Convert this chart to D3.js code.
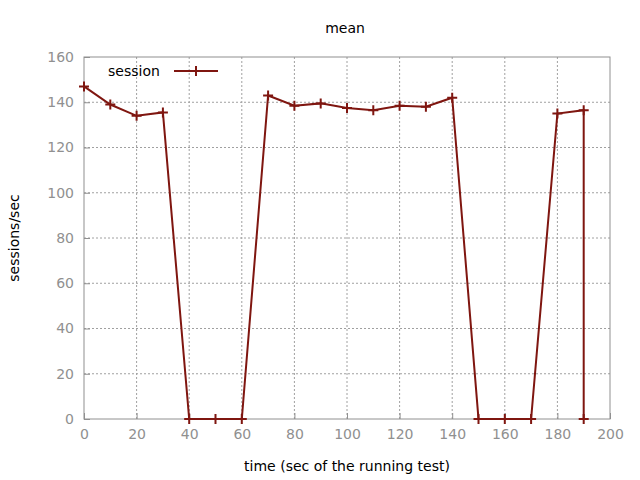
<!DOCTYPE html>
<html><head><meta charset="utf-8">
<script src="https://cdn.jsdelivr.net/npm/d3@7"></script>
<style>body{margin:0;background:#fff}</style>
</head><body>
<div id="chart"></div>
<script>
var times = [0,10,20,30,40,50,60,70,80,90,100,110,120,130,140,150,160,170,180,190,190];
var sessions = [147,139,134,135.5,0,0,0,143,138.5,139.5,137.5,136.5,138.5,138,142,0,0,0,135,136.5,0];
var xTicks = [0,20,40,60,80,100,120,140,160,180,200];
var yTicks = [0,20,40,60,80,100,120,140,160];

var width = 640, height = 480;
var margin = {top: 57, right: 30, bottom: 61, left: 84};
var color = "#7f1610";
var svg = d3.select("#chart").append("svg")
    .attr("width", width).attr("height", height)
    .style("font-family", "'DejaVu Sans', sans-serif");

var x = d3.scaleLinear().domain([0, 200]).range([margin.left, width - margin.right]);
var y = d3.scaleLinear().domain([0, 160]).range([height - margin.bottom, margin.top]);

// grid
svg.append("g").selectAll("line").data(xTicks.slice(1, -1)).enter().append("line")
    .attr("x1", d => x(d)).attr("x2", d => x(d))
    .attr("y1", y(0)).attr("y2", y(160))
    .attr("stroke", "#a0a0a0").attr("stroke-dasharray", "2,2");
svg.append("g").selectAll("line").data(yTicks.slice(1, -1)).enter().append("line")
    .attr("x1", x(0)).attr("x2", x(200))
    .attr("y1", d => y(d)).attr("y2", d => y(d))
    .attr("stroke", "#a0a0a0").attr("stroke-dasharray", "2,2");

// frame
svg.append("rect").attr("x", x(0)).attr("y", y(160))
    .attr("width", x(200) - x(0)).attr("height", y(0) - y(160))
    .attr("fill", "none").attr("stroke", "#909090");

var xAxis = svg.append("g").attr("transform", `translate(0,${y(0)})`)
    .call(d3.axisBottom(x).tickValues(xTicks).tickSize(-6).tickPadding(10));
var yAxis = svg.append("g").attr("transform", `translate(${x(0)},0)`)
    .call(d3.axisLeft(y).tickValues(yTicks).tickSize(-6).tickPadding(10));
[xAxis, yAxis].forEach(g => {
    g.select(".domain").remove();
    g.selectAll("line").attr("stroke", "#909090");
    g.selectAll("text").attr("fill", "#909090").style("font-size", "14px").style("font-family", "'DejaVu Sans', sans-serif");
});

var pts = times.map((t, i) => [t, sessions[i]]);
svg.append("path").datum(pts)
    .attr("d", d3.line().x(d => x(d[0])).y(d => y(d[1])))
    .attr("fill", "none").attr("stroke", color).attr("stroke-width", 2);
svg.append("g").selectAll("path").data(pts).enter().append("path")
    .attr("d", d => `M${x(d[0]) - 5},${y(d[1])}h10M${x(d[0])},${y(d[1]) - 5}v10`)
    .attr("stroke", color).attr("stroke-width", 2);

// legend
svg.append("text").attr("x", 108).attr("y", 76).text("session")
    .style("font-size", "14px").attr("fill", "#000");
svg.append("line").attr("x1", 174).attr("x2", 218).attr("y1", 71).attr("y2", 71)
    .attr("stroke", color).attr("stroke-width", 2);
svg.append("path").attr("d", "M191,71h10M196,66v10").attr("stroke", color).attr("stroke-width", 2);

svg.append("text").attr("x", 345).attr("y", 33).attr("text-anchor", "middle")
    .text("mean").style("font-size", "14px");
svg.append("text").attr("x", 347).attr("y", 471).attr("text-anchor", "middle")
    .text("time (sec of the running test)").style("font-size", "14px");
svg.append("text").attr("transform", "translate(19,238) rotate(-90)").attr("text-anchor", "middle")
    .text("sessions/sec").style("font-size", "14px");
</script>
</body></html>
